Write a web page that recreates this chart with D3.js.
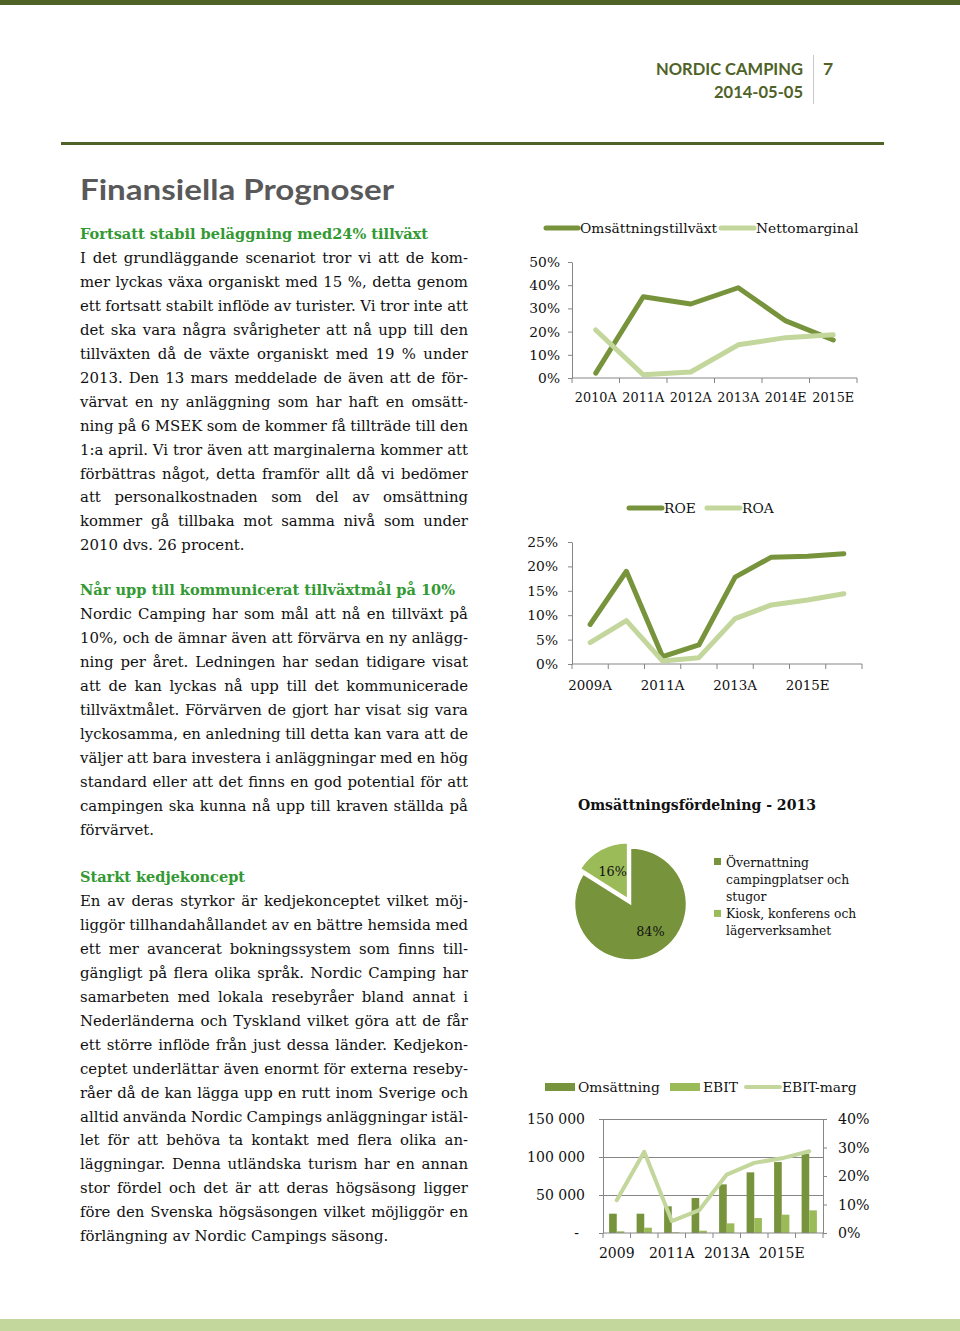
<!DOCTYPE html>
<html><head><meta charset="utf-8">
<script src="https://cdn.jsdelivr.net/npm/d3@7"></script>
<style>html,body{margin:0;padding:0;background:#fff;} svg{display:block;}</style>
</head><body>
<svg id="page" width="960" height="1331"></svg>
<script>
// ---------------- DATA ----------------
// Chart 1: Omsättningstillväxt / Nettomarginal (%)
const years1 = ["2010A","2011A","2012A","2013A","2014E","2015E"];
const omsTillvaxt = [2.1, 35, 31.9, 38.9, 24.6, 16.4];
const nettomarginal = [20.7, 1.4, 2.6, 14.3, 17.4, 18.6];
const ticks1 = [0,10,20,30,40,50];
const legend1 = ["Omsättningstillväxt","Nettomarginal"];

// Chart 2: ROE / ROA (%)
const years2 = ["2009A","2010A","2011A","2012A","2013A","2014E","2015E","2016E"];
const years2Shown = ["2009A","2011A","2013A","2015E"];
const roe = [8.1, 19.0, 1.5, 3.9, 17.8, 21.9, 22.1, 22.6];
const roa = [4.4, 8.9, 0.6, 1.3, 9.3, 12.1, 13.1, 14.4];
const ticks2 = [0,5,10,15,20,25];
const legend2 = ["ROE","ROA"];

// Chart 3: Omsättningsfördelning - 2013 (pie)
const pieTitle = "Omsättningsfördelning - 2013";
const pieValues = [84, 16];
const pieLegendLines = [["Övernattning","campingplatser och","stugor"],["Kiosk, konferens och","lägerverksamhet"]];

// Chart 4: Omsättning / EBIT (kSEK) and EBIT-marg (%)
const years4 = ["2009","2010","2011A","2012A","2013A","2014E","2015E","2016E"];
const years4Shown = ["2009","2011A","2013A","2015E"];
const omsattning = [25400, 25400, 35100, 46000, 64000, 79800, 93400, 104400];
const ebit = [2200, 7000, 900, 3000, 12700, 19700, 24100, 29800];
const ebitMarg = [11.5, 28.5, 4.2, 8.0, 20.5, 24.6, 26.2, 28.7];
const ticks4Left = [0, 50000, 100000, 150000];
const ticks4Right = [0, 10, 20, 30, 40];
const legend4 = ["Omsättning","EBIT","EBIT-marg"];

// Text
const pageTitle = "Finansiella Prognoser";
const paragraphs = [
  {head:"Fortsatt stabil beläggning med24% tillväxt", y:234, lines:[
    "I det grundläggande scenariot tror vi att de kom-",
    "mer lyckas växa organiskt med 15 %, detta genom",
    "ett fortsatt stabilt inflöde av turister. Vi tror inte att",
    "det ska vara några svårigheter att nå upp till den",
    "tillväxten då de växte organiskt med 19 % under",
    "2013. Den 13 mars meddelade de även att de för-",
    "värvat en ny anläggning som har haft en omsätt-",
    "ning på 6 MSEK som de kommer få tillträde till den",
    "1:a april. Vi tror även att marginalerna kommer att",
    "förbättras något, detta framför allt då vi bedömer",
    "att personalkostnaden som del av omsättning",
    "kommer gå tillbaka mot samma nivå som under",
    "2010 dvs. 26 procent."]},
  {head:"Når upp till kommunicerat tillväxtmål på 10%", y:590, lines:[
    "Nordic Camping har som mål att nå en tillväxt på",
    "10%, och de ämnar även att förvärva en ny anlägg-",
    "ning per året. Ledningen har sedan tidigare visat",
    "att de kan lyckas nå upp till det kommunicerade",
    "tillväxtmålet. Förvärven de gjort har visat sig vara",
    "lyckosamma, en anledning till detta kan vara att de",
    "väljer att bara investera i anläggningar med en hög",
    "standard eller att det finns en god potential för att",
    "campingen ska kunna nå upp till kraven ställda på",
    "förvärvet."]},
  {head:"Starkt kedjekoncept", y:877, lines:[
    "En av deras styrkor är kedjekonceptet vilket möj-",
    "liggör tillhandahållandet av en bättre hemsida med",
    "ett mer avancerat bokningssystem som finns till-",
    "gängligt på flera olika språk. Nordic Camping har",
    "samarbeten med lokala resebyråer bland annat i",
    "Nederländerna och Tyskland vilket göra att de får",
    "ett större inflöde från just dessa länder. Kedjekon-",
    "ceptet underlättar även enormt för externa reseby-",
    "råer då de kan lägga upp en rutt inom Sverige och",
    "alltid använda Nordic Campings anläggningar istäl-",
    "let för att behöva ta kontakt med flera olika an-",
    "läggningar. Denna utländska turism har en annan",
    "stor fördel och det är att deras högsäsong ligger",
    "före den Svenska högsäsongen vilket möjliggör en",
    "förlängning av Nordic Campings säsong."]}
];

// ---------------- STYLE ----------------
const DARK = "#77933c", MID = "#9bbb59", LIGHT = "#c3d69b", OLIVE = "#4f6228";
const AX = "#868686", TXT = "#111111", GREEN = "#339933";
const SERIF = "'DejaVu Serif', serif";
const SANS = "Lato, 'Open Sans', sans-serif";

const svg = d3.select("#page");
svg.append("rect").attr("width",960).attr("height",1331).attr("fill","#fff");

// Page furniture
svg.append("rect").attr("x",0).attr("y",0).attr("width",960).attr("height",5).attr("fill",OLIVE);
svg.append("rect").attr("x",61).attr("y",142).attr("width",823).attr("height",3).attr("fill",OLIVE);
svg.append("rect").attr("x",0).attr("y",1319).attr("width",960).attr("height",12).attr("fill",LIGHT);
svg.append("line").attr("x1",813.5).attr("x2",813.5).attr("y1",55).attr("y2",104).attr("stroke","#c8c8c8");
svg.append("text").attr("x",656).attr("y",75).attr("font-family",SANS).attr("font-weight",700)
  .attr("font-size",17.5).attr("fill",OLIVE).attr("textLength",147).attr("lengthAdjust","spacingAndGlyphs").text("NORDIC CAMPING");
svg.append("text").attr("x",714).attr("y",98).attr("font-family",SANS).attr("font-weight",700)
  .attr("font-size",17.5).attr("fill",OLIVE).attr("textLength",89).attr("lengthAdjust","spacingAndGlyphs").text("2014-05-05");
svg.append("text").attr("x",823).attr("y",75).attr("font-family",SANS).attr("font-weight",700)
  .attr("font-size",17.5).attr("fill",OLIVE).text("7");
svg.append("text").attr("x",80).attr("y",200).attr("font-family",SANS).attr("font-weight",700)
  .attr("font-size",28).attr("fill","#595959").attr("textLength",314).attr("lengthAdjust","spacingAndGlyphs").text(pageTitle);

// ---------------- BODY TEXT ----------------
function measure(str, size, weight){
  const t = svg.append("text").attr("font-family",SERIF).attr("font-size",size).attr("font-weight",weight||400).text(str);
  const w = t.node().getComputedTextLength(); t.remove(); return w;
}
const BODY = 14.9, LEFT = 80, RIGHT = 468, LH = 23.95;
function lineText(str, y, justify){
  if(!justify){
    svg.append("text").attr("x",LEFT).attr("y",y).attr("font-family",SERIF).attr("font-size",BODY).attr("fill",TXT).text(str);
    return;
  }
  const words = str.split(" ");
  const ws = words.map(w=>measure(w,BODY));
  const gap = (RIGHT-LEFT-d3.sum(ws))/(words.length-1);
  if(gap < 1.5){
    svg.append("text").attr("x",LEFT).attr("y",y).attr("font-family",SERIF).attr("font-size",BODY).attr("fill",TXT)
      .attr("textLength",RIGHT-LEFT).attr("lengthAdjust","spacingAndGlyphs").text(str);
    return;
  }
  const t = svg.append("text").attr("y",y).attr("font-family",SERIF).attr("font-size",BODY).attr("fill",TXT);
  let cx = LEFT;
  words.forEach((w,i)=>{ t.append("tspan").attr("x",cx).text(w); cx += ws[i]+gap; });
}
const headTargets = {"Fortsatt stabil beläggning med24% tillväxt":348,"Når upp till kommunicerat tillväxtmål på 10%":375,"Starkt kedjekoncept":165};
paragraphs.forEach(p=>{
  const hw = measure(p.head, 15, 700);
  svg.append("text").attr("x",LEFT).attr("y",p.y+5).attr("font-family",SERIF).attr("font-size",15).attr("font-weight",700)
    .attr("fill",GREEN).attr("textLength",Math.min(hw,headTargets[p.head])).attr("lengthAdjust","spacingAndGlyphs").text(p.head);
  p.lines.forEach((l,i)=>{
    lineText(l, p.y + 5 + (i+1)*LH, i < p.lines.length-1);
  });
});

// ---------------- helpers ----------------
function styleAxis(g, size){
  g.select(".domain").attr("stroke",AX);
  g.selectAll(".tick line").attr("stroke",AX);
  g.selectAll(".tick text").attr("font-family",SERIF).attr("font-size",size).attr("fill",TXT);
}
function boundaryTicks(xs, y, len){
  const pos = xs.domain().map(d=>xs(d)).concat([xs.range()[1]]);
  svg.append("g").selectAll("line").data(pos).join("line")
    .attr("x1",d=>d).attr("x2",d=>d).attr("y1",y).attr("y2",y+len).attr("stroke",AX);
  svg.append("line").attr("x1",xs.range()[0]).attr("x2",xs.range()[1]).attr("y1",y).attr("y2",y).attr("stroke",AX);
}

// ---------------- CHART 1 ----------------
{
  const x = d3.scaleBand().domain(years1).range([572,857]);
  const y = d3.scaleLinear().domain([0,50]).range([378,262]);
  const gy = svg.append("g").attr("transform","translate(572,0)")
    .call(d3.axisLeft(y).tickValues(ticks1).tickFormat(d=>d+"%").tickSize(4).tickSizeOuter(0).tickPadding(8));
  styleAxis(gy, 13.8);
  boundaryTicks(x, 378, 5);
  svg.append("g").selectAll("text").data(years1).join("text")
    .attr("x",d=>x(d)+x.bandwidth()/2).attr("y",402).attr("text-anchor","middle")
    .attr("font-family",SERIF).attr("font-size",12.8).attr("fill",TXT).text(d=>d);
  const line = d3.line().x((d,i)=>x(years1[i])+x.bandwidth()/2).y(d=>y(d));
  [[omsTillvaxt,DARK],[nettomarginal,LIGHT]].forEach(([s,c])=>{
    svg.append("path").datum(s).attr("d",line).attr("fill","none").attr("stroke",c)
      .attr("stroke-width",5).attr("stroke-linejoin","round").attr("stroke-linecap","round");
  });
  const lg = [{x1:546,x2:578,tx:580,c:DARK},{x1:721,x2:754,tx:756,c:LIGHT}];
  lg.forEach((l,i)=>{
    svg.append("line").attr("x1",l.x1).attr("x2",l.x2).attr("y1",228).attr("y2",228).attr("stroke",l.c)
      .attr("stroke-width",5).attr("stroke-linecap","round");
    svg.append("text").attr("x",l.tx).attr("y",233).attr("font-family",SERIF).attr("font-size",13.8).attr("fill",TXT).text(legend1[i]);
  });
}

// ---------------- CHART 2 ----------------
{
  const x = d3.scaleBand().domain(years2).range([572,862]);
  const y = d3.scaleLinear().domain([0,25]).range([664,542]);
  const gy = svg.append("g").attr("transform","translate(572,0)")
    .call(d3.axisLeft(y).tickValues(ticks2).tickFormat(d=>d+"%").tickSize(4).tickSizeOuter(0).tickPadding(10));
  styleAxis(gy, 13.8);
  boundaryTicks(x, 664, 5);
  svg.append("g").selectAll("text").data(years2Shown).join("text")
    .attr("x",d=>x(d)+x.bandwidth()/2).attr("y",690).attr("text-anchor","middle")
    .attr("font-family",SERIF).attr("font-size",13.4).attr("fill",TXT).text(d=>d);
  const line = d3.line().x((d,i)=>x(years2[i])+x.bandwidth()/2).y(d=>y(d));
  [[roe,DARK],[roa,LIGHT]].forEach(([s,c])=>{
    svg.append("path").datum(s).attr("d",line).attr("fill","none").attr("stroke",c)
      .attr("stroke-width",5).attr("stroke-linejoin","round").attr("stroke-linecap","round");
  });
  const lg = [{x1:629,x2:662,tx:664,c:DARK},{x1:707,x2:740,tx:742,c:LIGHT}];
  lg.forEach((l,i)=>{
    svg.append("line").attr("x1",l.x1).attr("x2",l.x2).attr("y1",508).attr("y2",508).attr("stroke",l.c)
      .attr("stroke-width",5).attr("stroke-linecap","round");
    svg.append("text").attr("x",l.tx).attr("y",513).attr("font-family",SERIF).attr("font-size",13.8).attr("fill",TXT).text(legend2[i]);
  });
}

// ---------------- CHART 3 (pie) ----------------
{
  const tw = measure(pieTitle, 15, 700);
  svg.append("text").attr("x",578).attr("y",810).attr("font-family",SERIF).attr("font-size",15).attr("font-weight",700)
    .attr("fill",TXT).attr("textLength",Math.min(tw,238)).attr("lengthAdjust","spacingAndGlyphs").text(pieTitle);
  const cx = 630.5, cy = 904, r = 56, explode = 6;
  const arcs = d3.pie().sort(null)(pieValues);
  const arc = d3.arc().innerRadius(0).outerRadius(r);
  const labArc = d3.arc().innerRadius(31).outerRadius(31);
  const cols = [DARK, MID];
  arcs.forEach((a,i)=>{
    const mid = (a.startAngle+a.endAngle)/2;
    const off = i===1 ? explode : 0;
    const dx = Math.sin(mid)*off, dy = -Math.cos(mid)*off;
    const g = svg.append("g").attr("transform",`translate(${cx+dx},${cy+dy})`);
    g.append("path").attr("d",arc(a)).attr("fill",cols[i]).attr("stroke","#fff").attr("stroke-width",1.5);
    const c = labArc.centroid(a);
    g.append("text").attr("x",c[0]+(i===0?5:0)).attr("y",c[1]+4.5).attr("text-anchor","middle")
      .attr("font-family",SERIF).attr("font-size",12.8).attr("fill",TXT).text(pieValues[i]+"%");
  });
  let ly = 862;
  pieLegendLines.forEach((lines,i)=>{
    svg.append("rect").attr("x",714).attr("y",ly-4).attr("width",7).attr("height",7).attr("fill",cols[i]);
    lines.forEach((t,j)=>{
      svg.append("text").attr("x",726).attr("y",ly+4.5+j*17).attr("font-family",SERIF).attr("font-size",12.3).attr("fill",TXT).text(t);
    });
    ly += lines.length*17.3;
  });
}

// ---------------- CHART 4 ----------------
{
  const x = d3.scaleBand().domain(years4).range([603,823]);
  const yL = d3.scaleLinear().domain([0,150000]).range([1233,1119]);
  const yR = d3.scaleLinear().domain([0,40]).range([1233,1119]);
  const fmt = d3.formatLocale({decimal:",",thousands:" ",grouping:[3],currency:["",""]}).format(",");
  svg.append("g").selectAll("line").data(ticks4Left.filter(d=>d>0)).join("line")
    .attr("x1",603).attr("x2",823).attr("y1",d=>yL(d)+0.5).attr("y2",d=>yL(d)+0.5).attr("stroke",AX);
  const gl = svg.append("g").attr("transform","translate(603,0)")
    .call(d3.axisLeft(yL).tickValues(ticks4Left).tickFormat(d=>d===0?"-":fmt(d)).tickSize(4).tickSizeOuter(0).tickPadding(14));
  styleAxis(gl, 14);
  gl.selectAll(".tick text").filter(d=>d===0).attr("dx",-6);
  const gr = svg.append("g").attr("transform","translate(823,0)")
    .call(d3.axisRight(yR).tickValues(ticks4Right).tickFormat(d=>d+"%").tickSize(4).tickSizeOuter(0).tickPadding(11));
  styleAxis(gr, 14.2);
  const xi = d3.scaleBand().domain(["oms","ebit"]).range([0,x.bandwidth()]).paddingOuter(0.8).paddingInner(0);
  svg.append("g").selectAll("rect").data(omsattning).join("rect")
    .attr("x",(d,i)=>x(years4[i])+xi("oms")).attr("width",xi.bandwidth())
    .attr("y",d=>yL(d)).attr("height",d=>1233-yL(d)).attr("fill",DARK);
  svg.append("g").selectAll("rect").data(ebit).join("rect")
    .attr("x",(d,i)=>x(years4[i])+xi("ebit")).attr("width",xi.bandwidth())
    .attr("y",d=>yL(d)).attr("height",d=>1233-yL(d)).attr("fill",MID);
  boundaryTicks(x, 1233, 5);
  svg.append("g").selectAll("text").data(years4Shown).join("text")
    .attr("x",d=>x(d)+x.bandwidth()/2).attr("y",1258).attr("text-anchor","middle")
    .attr("font-family",SERIF).attr("font-size",14).attr("fill",TXT).text(d=>d);
  const line = d3.line().x((d,i)=>x(years4[i])+x.bandwidth()/2).y(d=>yR(d));
  svg.append("path").datum(ebitMarg).attr("d",line).attr("fill","none").attr("stroke",LIGHT)
    .attr("stroke-width",4).attr("stroke-linejoin","round").attr("stroke-linecap","round");
  svg.append("rect").attr("x",545).attr("y",1083).attr("width",30).attr("height",8).attr("fill",DARK);
  svg.append("text").attr("x",578).attr("y",1092).attr("font-family",SERIF).attr("font-size",13.8).attr("fill",TXT).text(legend4[0]);
  svg.append("rect").attr("x",670).attr("y",1083).attr("width",30).attr("height",8).attr("fill",MID);
  svg.append("text").attr("x",703).attr("y",1092).attr("font-family",SERIF).attr("font-size",13.8).attr("fill",TXT).text(legend4[1]);
  svg.append("line").attr("x1",746).attr("x2",780).attr("y1",1087).attr("y2",1087).attr("stroke",LIGHT).attr("stroke-width",4).attr("stroke-linecap","round");
  svg.append("text").attr("x",782).attr("y",1092).attr("font-family",SERIF).attr("font-size",13.8).attr("fill",TXT).text(legend4[2]);
}
</script>
</body></html>
